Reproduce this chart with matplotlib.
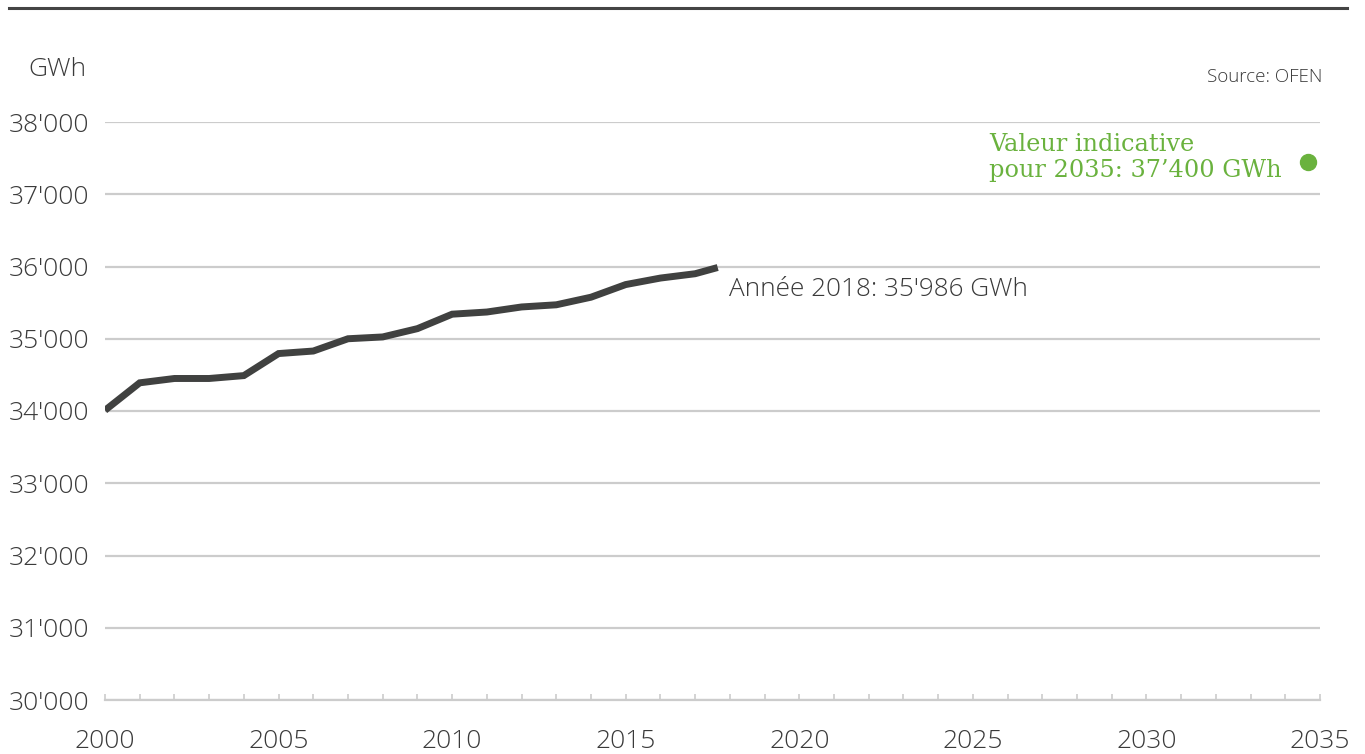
import matplotlib.pyplot as plt
from matplotlib.ticker import MultipleLocator, FuncFormatter
from matplotlib.lines import Line2D

# Expected yearly production (GWh)
years = [2000, 2001, 2002, 2003, 2004, 2005, 2006, 2007, 2008, 2009,
         2010, 2011, 2012, 2013, 2014, 2015, 2016, 2017, 2017.65]
production = [34010, 34390, 34450, 34450, 34490, 34795, 34830, 35000, 35025, 35140,
              35340, 35370, 35440, 35470, 35575, 35750, 35840, 35900, 35986]
target_year = 2034.65
target_value = 37450

DARK = '#404140'
GREEN = '#6ab23e'
GRID = '#cccccc'
TEXT = '#3a3a3a'

plt.rcParams['font.family'] = ['Open Sans', 'DejaVu Sans']
plt.rcParams['font.weight'] = 'light'

fig = plt.figure(figsize=(13.65, 7.54), dpi=100)
ax = fig.add_axes([105 / 1365, 54 / 754, 1215 / 1365, 578 / 754])

ax.plot(years, production, color=DARK, linewidth=5, solid_capstyle='butt',
        solid_joinstyle='miter', zorder=3)
ax.plot([target_year], [target_value], 'o', color=GREEN, markersize=11.5, zorder=3)

ax.set_xlim(2000, 2035)
ax.set_ylim(30000, 38000)

ax.xaxis.set_major_locator(MultipleLocator(5))
ax.xaxis.set_minor_locator(MultipleLocator(1))
ax.yaxis.set_major_locator(MultipleLocator(1000))
ax.yaxis.set_major_formatter(FuncFormatter(lambda v, p: f"{int(v) // 1000}'{int(v) % 1000:03d}"))

ax.tick_params(axis='x', which='both', direction='in', length=4, width=1.2,
               color=GRID, labelsize=19, labelcolor=TEXT, pad=21)
ax.tick_params(axis='y', length=0, labelsize=19, labelcolor=TEXT, pad=11)

ax.grid(axis='y', color=GRID, linewidth=1.6)
ax.set_axisbelow(True)
for side in ['top', 'right', 'left']:
    ax.spines[side].set_visible(False)
ax.spines['bottom'].set_color(GRID)
ax.spines['bottom'].set_linewidth(1.6)

# Annotations
ax.annotate("Année 2018: 35'986 GWh", xy=(years[-1], production[-1]),
            xytext=(8, -16), textcoords='offset points', ha='left', va='center',
            fontsize=18.8, color=TEXT)
ax.annotate("Valeur indicative\npour 2035: 37’400 GWh", xy=(target_year, target_value),
            xytext=(-19, 3), textcoords='offset points', ha='right', va='center',
            multialignment='left', fontsize=17.3, color=GREEN, family='DejaVu Serif',
            linespacing=1.12)

fig.text(28 / 1365, 1 - 70 / 754, 'GWh', ha='left', va='center', fontsize=19, color=TEXT)
fig.text(1322 / 1365, 1 - 77 / 754, 'Source: OFEN', ha='right', va='center',
         fontsize=13.5, color=TEXT)

# dark rule across the top
fig.add_artist(Line2D([9 / 1365, 1347 / 1365], [1 - 8 / 754, 1 - 8 / 754],
                      color='#444444', linewidth=2.2, transform=fig.transFigure))

fig.savefig('out.png', dpi=100)
